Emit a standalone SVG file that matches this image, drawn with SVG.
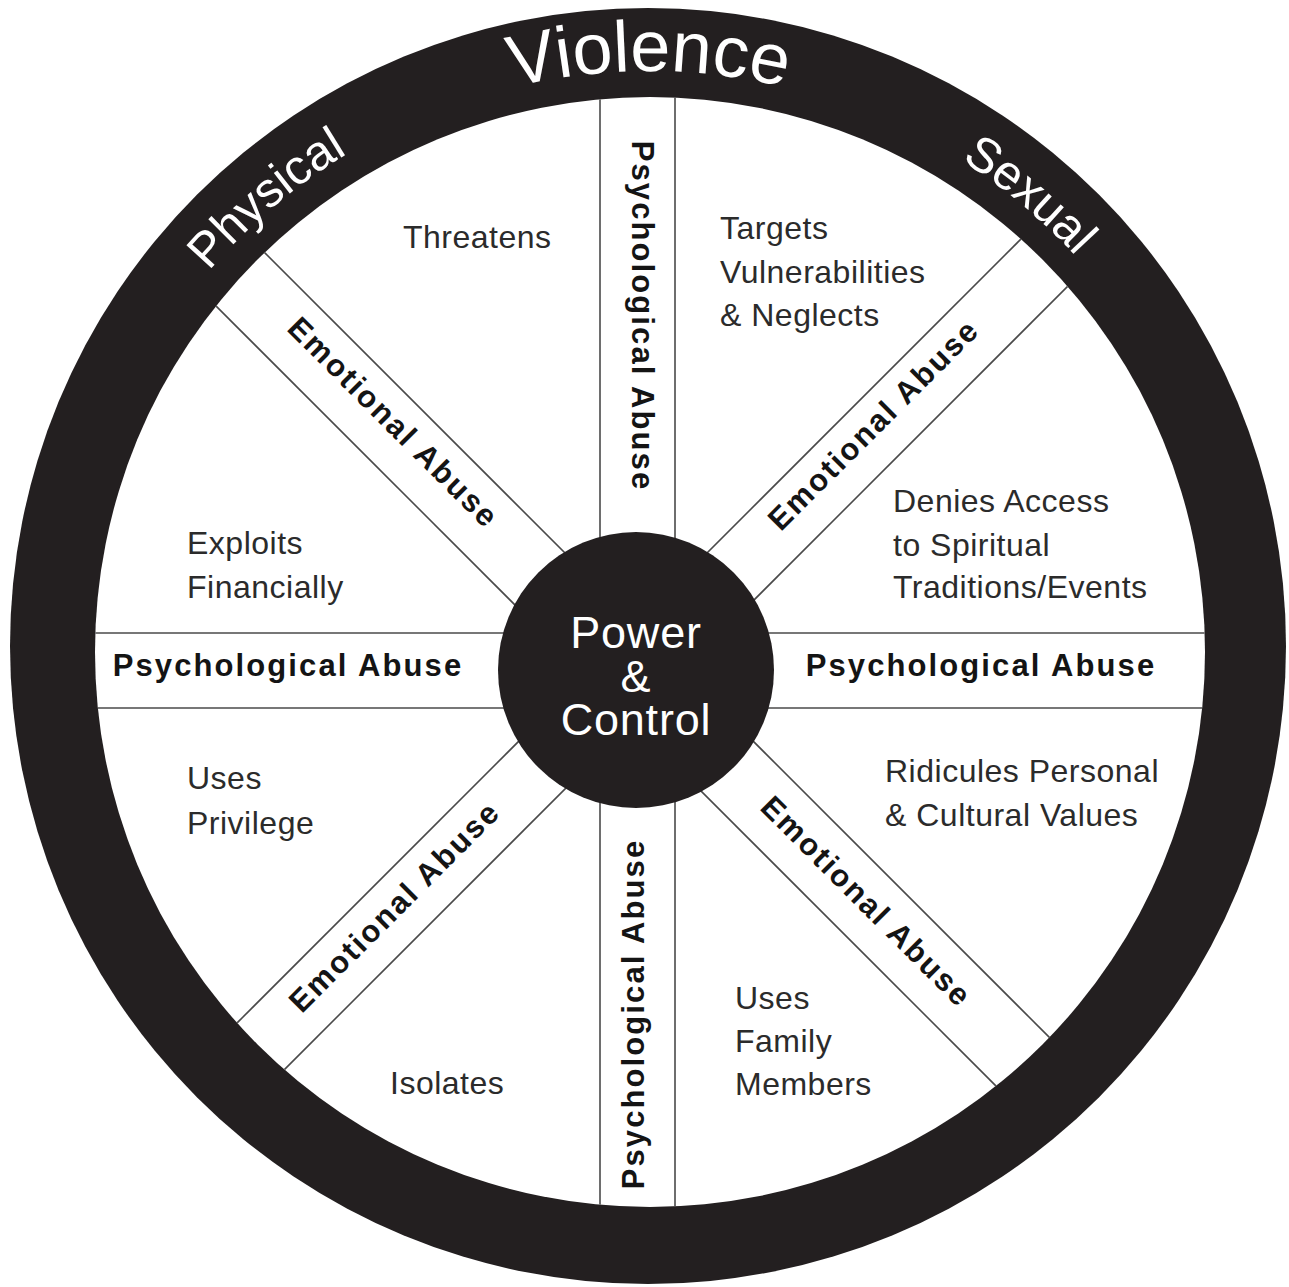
<svg xmlns="http://www.w3.org/2000/svg" width="1289" height="1287" viewBox="0 0 1289 1287">
<defs>
<style>
.ring{fill:#231f20}
.ringtxt{font-family:"Liberation Sans",Arial,sans-serif;fill:#fff}
.spoke{stroke:#4a4a4a;stroke-width:1.6;fill:none}
.band{font-family:"Liberation Sans",Arial,sans-serif;font-weight:bold;font-size:31px;letter-spacing:2.1px;fill:#141414;text-anchor:middle}
.tac{font-family:"Liberation Sans",Arial,sans-serif;font-size:32px;letter-spacing:0.5px;fill:#2b2b2b}
.hubtxt{font-family:"Liberation Sans",Arial,sans-serif;font-size:45px;letter-spacing:0.8px;fill:#fff;text-anchor:middle}
</style>
<clipPath id="inner"><circle cx="650" cy="652" r="555"/></clipPath>
<path id="arcV" d="M 71 649 A 578 578 0 0 1 1227 649"/>
<path id="arcPS" d="M 69 649 A 580 580 0 0 1 1229 649"/>
</defs>
<rect width="1289" height="1287" fill="#fff"/>
<g id="wheel">
<circle class="ring" cx="648" cy="646" r="638"/>
<circle cx="650" cy="652" r="555" fill="#fff"/>
<text class="ringtxt" font-size="72"><textPath href="#arcV" startOffset="50%" text-anchor="middle">Violence</textPath></text>
<text class="ringtxt" font-size="49"><textPath href="#arcPS" startOffset="27.6%" text-anchor="middle">Physical</textPath></text>
<text class="ringtxt" font-size="49"><textPath href="#arcPS" startOffset="72.2%" text-anchor="middle">Sexual</textPath></text>
</g>
<g id="connectors" clip-path="url(#inner)">
<line class="spoke" x1="600" y1="0" x2="600" y2="1287"/>
<line class="spoke" x1="675" y1="0" x2="675" y2="1287"/>
<line class="spoke" x1="0" y1="633" x2="1289" y2="633"/>
<line class="spoke" x1="0" y1="708" x2="1289" y2="708"/>
<line class="spoke" x1="-200" y1="-212" x2="1400" y2="1388"/>
<line class="spoke" x1="-200" y1="-110" x2="1400" y2="1490"/>
<line class="spoke" x1="-200" y1="1554" x2="1400" y2="-46"/>
<line class="spoke" x1="-200" y1="1460" x2="1400" y2="-140"/>
</g>
<g id="band-top"><text class="band" transform="translate(637.5,316) rotate(90)" y="6">Psychological Abuse</text></g>
<g id="band-bottom"><text class="band" transform="translate(637.5,1014) rotate(-90)" y="6">Psychological Abuse</text></g>
<g id="band-left"><text class="band" x="288" y="676">Psychological Abuse</text></g>
<g id="band-right"><text class="band" x="981" y="676">Psychological Abuse</text></g>
<g id="band-ul"><text class="band" transform="translate(391,425) rotate(45)" y="7">Emotional Abuse</text></g>
<g id="band-ur"><text class="band" transform="translate(876,427) rotate(-45)" y="7">Emotional Abuse</text></g>
<g id="band-ll"><text class="band" transform="translate(397,909) rotate(-45)" y="7">Emotional Abuse</text></g>
<g id="band-lr"><text class="band" transform="translate(864,904) rotate(45)" y="7">Emotional Abuse</text></g>
<g id="t-threatens"><text class="tac" x="403" y="248">Threatens</text></g>
<g id="t-targets"><text class="tac" x="720" y="239">Targets</text><text class="tac" x="720" y="283">Vulnerabilities</text><text class="tac" x="720" y="326">&amp; Neglects</text></g>
<g id="t-denies"><text class="tac" x="893" y="512">Denies Access</text><text class="tac" x="893" y="556">to Spiritual</text><text class="tac" x="893" y="598">Traditions/Events</text></g>
<g id="t-exploits"><text class="tac" x="187" y="554">Exploits</text><text class="tac" x="187" y="598">Financially</text></g>
<g id="t-privilege"><text class="tac" x="187" y="789">Uses</text><text class="tac" x="187" y="834">Privilege</text></g>
<g id="t-ridicules"><text class="tac" x="885" y="782">Ridicules Personal</text><text class="tac" x="885" y="826">&amp; Cultural Values</text></g>
<g id="t-isolates"><text class="tac" x="390" y="1094">Isolates</text></g>
<g id="t-family"><text class="tac" x="735" y="1009">Uses</text><text class="tac" x="735" y="1052">Family</text><text class="tac" x="735" y="1095">Members</text></g>
<g id="hub">
<circle class="ring" cx="636" cy="670" r="138"/>
<text class="hubtxt"><tspan x="636" y="648">Power</tspan><tspan x="636" y="692">&amp;</tspan><tspan x="636" y="735">Control</tspan></text>
</g>
</svg>
